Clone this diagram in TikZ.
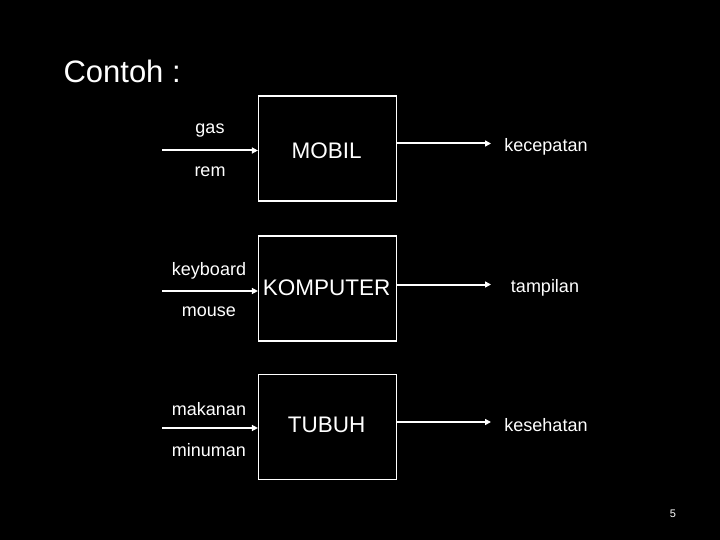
\documentclass[tikz,border=0pt]{standalone}
\usepackage{fontspec}
\setmainfont{Liberation Sans}
\usetikzlibrary{arrows.meta}
\begin{document}
\begin{tikzpicture}[x=1pt,y=-1pt,
  sysbox/.style={draw=white,line width=1.2pt,minimum width=138pt,minimum height=105pt,inner sep=0pt},
  boxlbl/.style={text=white,font=\fontsize{22.5}{26}\selectfont,anchor=center},
  lbl/.style={text=white,font=\fontsize{18}{21}\selectfont,anchor=center},
  conn/.style={draw=white,line width=2pt,-{Triangle[length=6pt,width=6pt]}}]
\fill[black] (0,0) rectangle (720,540);
\useasboundingbox (0,0) rectangle (720,540);
\node[text=white,font=\fontsize{31}{36}\selectfont,anchor=west] (title) at (60,71) {Contoh :};
% boxes
\node[sysbox] (b1) at (327.5,148.5) {};
\node[sysbox] (b2) at (327.5,288.5) {};
\node[sysbox] (b3) at (327.5,427) {};
\node[boxlbl] (t1) at (326.7,151) {MOBIL};
\node[boxlbl] (t2) at (326.7,288) {KOMPUTER};
\node[boxlbl] (t3) at (326.7,425) {TUBUH};
% inputs
\node[lbl] (gas) at (210,130.5) {gas};
\node[lbl] (rem) at (210,171.5) {rem};
\node[lbl] (kb) at (209,271) {keyboard};
\node[lbl] (ms) at (209,312) {mouse};
\node[lbl] (mk) at (209,409) {makanan};
\node[lbl] (mn) at (209,450) {minuman};
\coordinate (i1) at (162,150.5);
\coordinate (i2) at (162,291);
\coordinate (i3) at (162,428);
\draw[conn] (i1) -- (b1.west |- i1);
\draw[conn] (i2) -- (b2.west |- i2);
\draw[conn] (i3) -- (b3.west |- i3);
% outputs
\node[lbl] (o1) at (546,147) {kecepatan};
\node[lbl] (o2) at (545,288) {tampilan};
\node[lbl] (o3) at (546,425) {kesehatan};
\coordinate (e1) at (491,143.5);
\coordinate (e2) at (491,284.5);
\coordinate (e3) at (491,422);
\draw[conn] (b1.east |- e1) -- (e1);
\draw[conn] (b2.east |- e2) -- (e2);
\draw[conn] (b3.east |- e3) -- (e3);
\node[text=white,font=\fontsize{11}{13}\selectfont] (pg) at (673,514) {5};
\end{tikzpicture}
\end{document}
